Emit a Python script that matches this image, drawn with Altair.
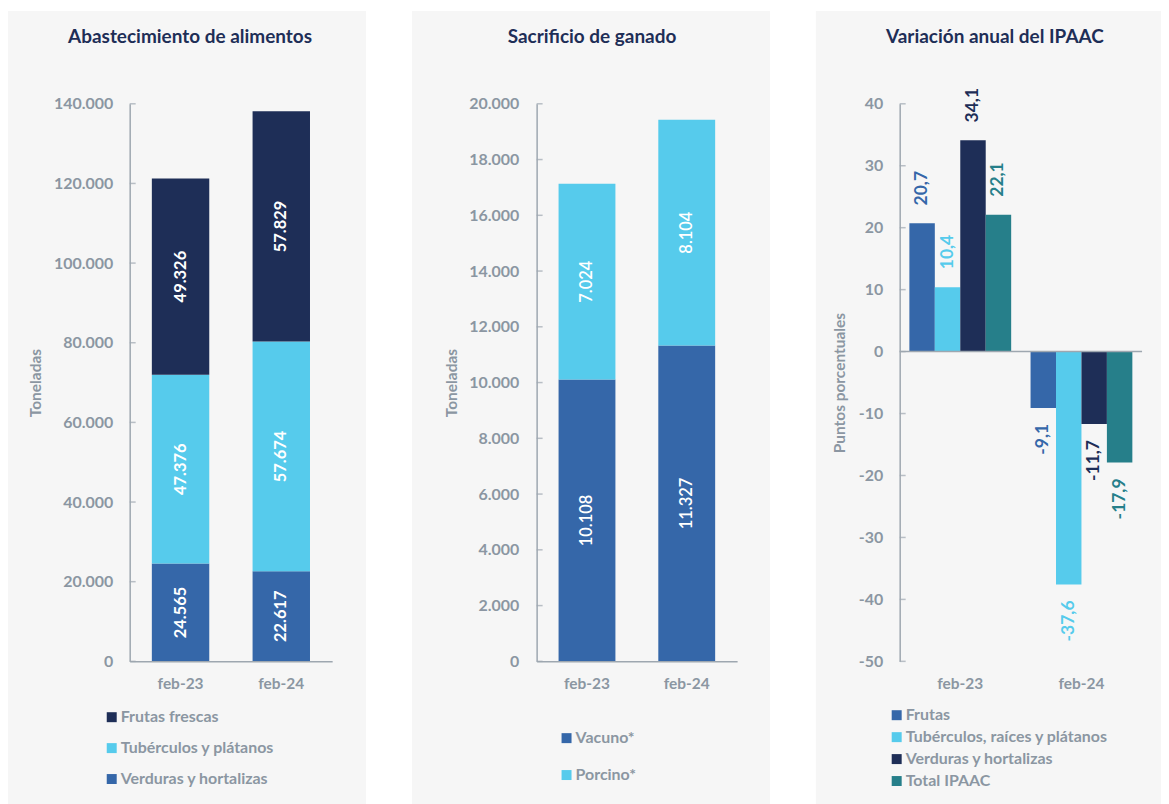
import altair as alt
import pandas as pd

FONT = "Lato"
BG = "#f6f6f6"
NAVY = "#1e2e57"
MID = "#3567a9"
LIGHT = "#56cbec"
TEAL = "#267f8a"
TEXT_GRAY = "#8b96a2"
AXIS_GRAY = "#9ea7b0"

meses = ["feb-23", "feb-24"]

# Panel 1: Abastecimiento de alimentos (toneladas)
abast_series = ["Frutas frescas", "Tubérculos y plátanos", "Verduras y hortalizas"]
abast_frutas = [49326, 57829]
abast_tuberculos = [47376, 57674]
abast_verduras = [24565, 22617]
abast_ticks = [0, 20000, 40000, 60000, 80000, 100000, 120000, 140000]

# Panel 2: Sacrificio de ganado (toneladas)
sacr_series = ["Vacuno*", "Porcino*"]
sacr_vacuno = [10108, 11327]
sacr_porcino = [7024, 8104]
sacr_ticks = [0, 2000, 4000, 6000, 8000, 10000, 12000, 14000, 16000, 18000, 20000]

# Panel 3: Variación anual del IPAAC (puntos porcentuales)
ipaac_series = ["Frutas", "Tubérculos, raíces y plátanos", "Verduras y hortalizas", "Total IPAAC"]
ipaac_frutas = [20.7, -9.1]
ipaac_tuberculos = [10.4, -37.6]
ipaac_verduras = [34.1, -11.7]
ipaac_total = [22.1, -17.9]
ipaac_ticks = [-50, -40, -30, -20, -10, 0, 10, 20, 30, 40]


def miles(v):
    return f"{v:,}".replace(",", ".")


def decimal(v):
    return f"{v:.1f}".replace(".", ",")


rows1 = []
for serie, vals, orden in [("Verduras y hortalizas", abast_verduras, 0),
                           ("Tubérculos y plátanos", abast_tuberculos, 1),
                           ("Frutas frescas", abast_frutas, 2)]:
    for m, v in zip(meses, vals):
        rows1.append({"mes": m, "serie": serie, "valor": v, "orden": orden, "etiqueta": miles(v)})
df1 = pd.DataFrame(rows1)

rows2 = []
for serie, vals, orden in [("Vacuno*", sacr_vacuno, 0), ("Porcino*", sacr_porcino, 1)]:
    for m, v in zip(meses, vals):
        rows2.append({"mes": m, "serie": serie, "valor": v, "orden": orden, "etiqueta": miles(v)})
df2 = pd.DataFrame(rows2)

rows3 = []
for serie, vals in zip(ipaac_series, [ipaac_frutas, ipaac_tuberculos, ipaac_verduras, ipaac_total]):
    for m, v in zip(meses, vals):
        rows3.append({"mes": m, "serie": serie, "valor": v, "etiqueta": decimal(v)})
df3 = pd.DataFrame(rows3)

bg_data = pd.DataFrame({"p": [0]})


def panel_bg(x1, x2, y1, y2):
    return alt.Chart(bg_data).mark_rect(color=BG).encode(
        x=alt.value(x1), x2=alt.value(x2), y=alt.value(y1), y2=alt.value(y2)
    )


def inner_ticks(values, axis):
    # small tick marks pointing into the plot, at the axis tick values
    return alt.Chart(pd.DataFrame({"t": values})).mark_tick(
        color=AXIS_GRAY, thickness=1.5, size=6
    ).encode(y=alt.Y("t:Q", axis=axis), x=alt.value(3))


def title(text, dx):
    return alt.TitleParams(
        text=text, font=FONT, fontSize=19, fontWeight="bold", color=NAVY,
        anchor="middle", frame="group", baseline="alphabetic", offset=-51, dx=dx,
    )


def legend(x, y, row_pad):
    return alt.Legend(
        orient="none", legendX=x, legendY=y, title=None, symbolType="square",
        symbolSize=100, symbolStrokeWidth=0, labelFont=FONT, labelFontSize=16,
        labelFontWeight="bold", labelColor=TEXT_GRAY, rowPadding=row_pad, labelOffset=1,
        labelLimit=400,
    )


def x_axis(domain=True):
    return alt.Axis(title=None, labelAngle=0, ticks=False, domain=domain, labelPadding=15, zindex=1)


def y_axis(values, title_text, expr, label_pad, title_pad):
    return alt.Axis(values=values, title=title_text, labelExpr=expr, labelPadding=label_pad,
                    titlePadding=title_pad, ticks=False, zindex=1)


LABEL_EXPR_MILES = "replace(format(datum.value, ','), ',', '.')"

# ---------- Panel 1 ----------
W1, H = 203, 559
x1 = alt.X("mes:N", sort=meses, scale=alt.Scale(paddingInner=0.43, paddingOuter=0.22), axis=x_axis())
ax1 = y_axis(abast_ticks, "Toneladas", LABEL_EXPR_MILES, 17, 10)
stack1 = alt.Chart(df1).transform_stack(
    stack="valor", groupby=["mes"], sort=[alt.SortField("orden", "ascending")], as_=["v0", "v1"]
).transform_calculate(mid="(datum.v0 + datum.v1) / 2")

bars1 = stack1.mark_bar().encode(
    x=x1,
    y=alt.Y("v0:Q", scale=alt.Scale(domain=[0, 140000], nice=False), axis=ax1),
    y2="v1:Q",
    color=alt.Color("serie:N", scale=alt.Scale(domain=abast_series, range=[NAVY, LIGHT, MID]),
                    legend=legend(-26, 607, 15)),
)
text1 = stack1.mark_text(angle=270, color="white", font=FONT, fontSize=16.5, fontWeight="bold",
                         align="center", baseline="middle").encode(
    x=x1, y=alt.Y("mid:Q", axis=ax1), text="etiqueta:N"
)
p1 = alt.layer(panel_bg(-122, 237, -93, 705), bars1, text1, inner_ticks(abast_ticks, ax1)).properties(
    width=W1, height=H, title=title("Abastecimiento de alimentos", -41)
)

# ---------- Panel 2 ----------
W2 = 201
x2 = alt.X("mes:N", sort=meses, scale=alt.Scale(paddingInner=0.43, paddingOuter=0.22), axis=x_axis())
ax2 = y_axis(sacr_ticks, "Toneladas", LABEL_EXPR_MILES, 18, 9)
stack2 = alt.Chart(df2).transform_stack(
    stack="valor", groupby=["mes"], sort=[alt.SortField("orden", "ascending")], as_=["v0", "v1"]
).transform_calculate(mid="(datum.v0 + datum.v1) / 2")
bars2 = stack2.mark_bar().encode(
    x=x2,
    y=alt.Y("v0:Q", scale=alt.Scale(domain=[0, 20000], nice=False), axis=ax2),
    y2="v1:Q",
    color=alt.Color("serie:N", scale=alt.Scale(domain=sacr_series, range=[MID, LIGHT]),
                    legend=legend(22, 628, 21)),
)
text2 = stack2.mark_text(angle=270, color="white", font=FONT, fontSize=16.5, fontWeight=600,
                         align="center", baseline="middle").encode(
    x=x2, y=alt.Y("mid:Q", axis=ax2), text="etiqueta:N"
)
p2 = alt.layer(panel_bg(-125, 234, -93, 705), bars2, text2, inner_ticks(sacr_ticks, ax2)).properties(
    width=W2, height=H, title=title("Sacrificio de ganado", -45)
)

# ---------- Panel 3 ----------
W3 = 243
x3 = alt.X("mes:N", sort=meses, scale=alt.Scale(paddingInner=0.16, paddingOuter=0.08),
           axis=x_axis(domain=False))
xo3 = alt.XOffset("serie:N", sort=ipaac_series, scale=alt.Scale(paddingInner=0, paddingOuter=0))
col3 = alt.Color("serie:N", scale=alt.Scale(domain=ipaac_series, range=[MID, LIGHT, NAVY, TEAL]),
                 legend=legend(-11, 605, 6))
ax3 = y_axis(ipaac_ticks, "Puntos porcentuales", "datum.value + ''", 17, 11)
y3 = alt.Y("valor:Q", scale=alt.Scale(domain=[-50, 40], nice=False), axis=ax3)
base3 = alt.Chart(df3)
bars3 = base3.mark_bar().encode(x=x3, xOffset=xo3, y=y3, color=col3)
pos3 = base3.transform_filter("datum.valor >= 0").mark_text(
    angle=270, align="left", baseline="middle", dx=18, font=FONT, fontSize=17.5, fontWeight="bold"
).encode(x=x3, xOffset=xo3, y=y3, text="etiqueta:N", color=col3)
neg3 = base3.transform_filter("datum.valor < 0").mark_text(
    angle=270, align="right", baseline="middle", dx=-16, font=FONT, fontSize=17.5, fontWeight="bold"
).encode(x=x3, xOffset=xo3, y=y3, text="etiqueta:N", color=col3)
zero3 = alt.Chart(bg_data).mark_rule(color=AXIS_GRAY, strokeWidth=1.5).encode(y=alt.datum(0))
p3 = alt.layer(panel_bg(-84, 262, -93, 705), bars3, zero3, pos3, neg3,
               inner_ticks(ipaac_ticks, ax3)).properties(
    width=W3, height=H, title=title("Variación anual del IPAAC", -26)
)

chart = alt.hconcat(
    p1, p2, p3, spacing=46, padding={"left": 0, "top": 2, "right": 0, "bottom": 0}, background="white"
).resolve_scale(color="independent", x="independent", y="independent").configure_view(
    strokeWidth=0
).configure_axis(
    grid=False, labelFont=FONT, labelFontWeight="bold", labelColor=TEXT_GRAY, labelFontSize=16,
    titleFont=FONT, titleFontSize=15.5, titleFontWeight="bold", titleColor=TEXT_GRAY,
    domainColor=AXIS_GRAY, domainWidth=1.5, tickSize=0,
).configure_axisX(labelFontSize=15.5)

chart.save("out.html", embed_options={"renderer": "svg", "actions": False})
